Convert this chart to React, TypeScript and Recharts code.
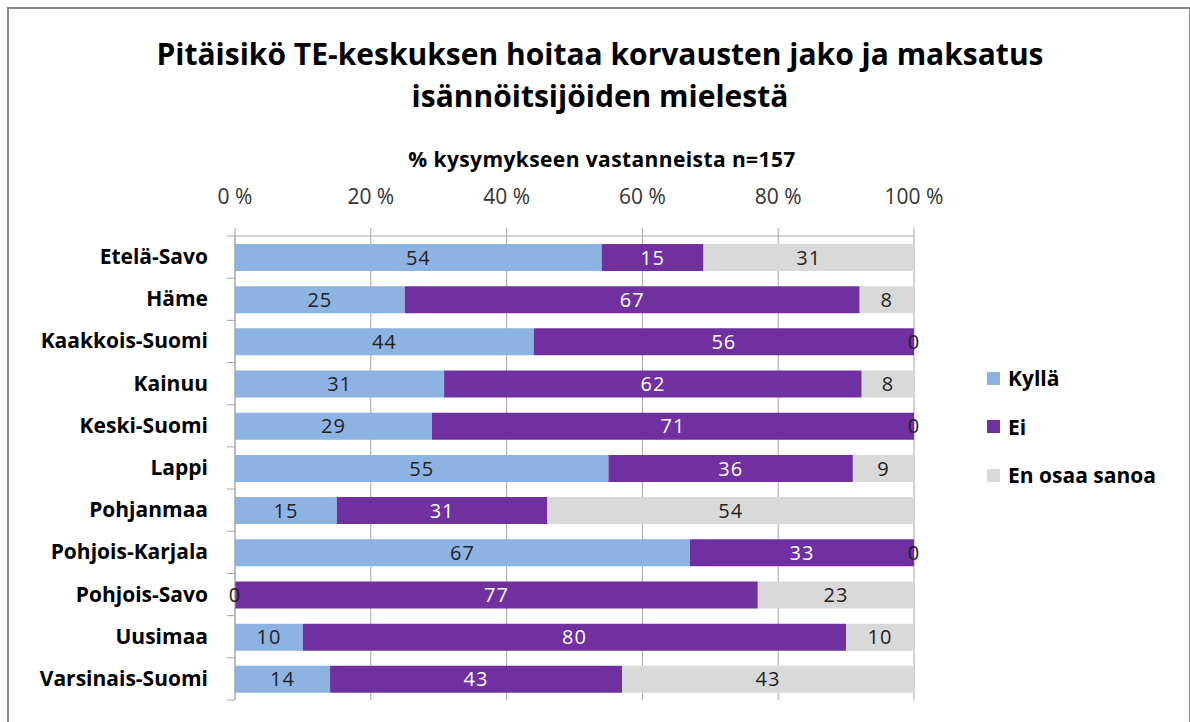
import React from 'react';
import { BarChart, Bar, XAxis, YAxis, CartesianGrid, LabelList } from 'recharts';

const regions = [
  'Etelä-Savo',
  'Häme',
  'Kaakkois-Suomi',
  'Kainuu',
  'Keski-Suomi',
  'Lappi',
  'Pohjanmaa',
  'Pohjois-Karjala',
  'Pohjois-Savo',
  'Uusimaa',
  'Varsinais-Suomi',
];
const kylla = [54, 25, 44, 30.8, 29, 55, 15, 67, 0, 10, 14];
const ei = [15, 67, 56, 61.5, 71, 36, 31, 33, 77, 80, 43];
const enOsaa = [31, 8, 0, 7.7, 0, 9, 54, 0, 23, 10, 43];
const xTicks = [0, 20, 40, 60, 80, 100];

const seriesNames = ['Kyllä', 'Ei', 'En osaa sanoa'];
const seriesColors = ['#8db3e2', '#7030a0', '#d9d9d9'];

const data = regions.map((name, i) => ({ name, kylla: kylla[i], ei: ei[i], enOsaa: enOsaa[i] }));

const FONT = '"Open Sans", Lato, sans-serif';
const GRID = '#a6a6a6';
const DARK = '#222';
const PLOT_LEFT = 235;
const PLOT_TOP = 236;
const PLOT_BOTTOM = 700;
const BAND = (PLOT_BOTTOM - PLOT_TOP) / regions.length;
const LABEL_STYLE = { fontSize: 20, letterSpacing: 1, fontFamily: FONT };

const CategoryTick = (props: any) => {
  const { y, payload, index } = props;
  const half = payload && payload.offset ? payload.offset : BAND / 2;
  return (
    <g>
      <text x={PLOT_LEFT - 27} y={y} dy={7} textAnchor="end" fontSize={21} fontWeight={700} fill="#000" fontFamily={FONT}>
        {payload.value}
      </text>
      <line x1={PLOT_LEFT - 8} x2={PLOT_LEFT} y1={y - half} y2={y - half} stroke={GRID} />
      {index === regions.length - 1 && (
        <line x1={PLOT_LEFT - 8} x2={PLOT_LEFT} y1={y + half} y2={y + half} stroke={GRID} />
      )}
    </g>
  );
};

// zero-width segments get no label from recharts; draw them at the edges of the Ei segment
const ZeroLabels = (props: any) => {
  const { x, y, width, height, index } = props;
  const cy = y + height / 2;
  return (
    <g>
      {kylla[index] === 0 && (
        <text x={x} y={cy} dy={7} textAnchor="middle" fill={DARK} {...LABEL_STYLE}>0</text>
      )}
      {enOsaa[index] === 0 && (
        <text x={x + width} y={cy} dy={7} textAnchor="middle" fill={DARK} {...LABEL_STYLE}>0</text>
      )}
    </g>
  );
};

const fmt = (v: any) => String(Math.round(Number(v)));

export default function App() {
  return (
    <div style={{ position: 'absolute', left: 0, top: 0, width: 1190, height: 722, background: '#fff', overflow: 'hidden', fontFamily: FONT }}>
      <div style={{ position: 'absolute', left: 7, top: 7, width: 1180, height: 730, border: '2px solid #888' }} />
      <div style={{ position: 'absolute', left: 0, top: 33, width: 1200, textAlign: 'center', fontSize: 30, fontWeight: 700, lineHeight: '42px', color: '#000' }}>
        Pitäisikö TE-keskuksen hoitaa korvausten jako ja maksatus
        <br />
        isännöitsijöiden mielestä
      </div>
      <div style={{ position: 'absolute', left: 0, top: 145, width: 1204, textAlign: 'center', fontSize: 21, letterSpacing: 0.4, fontWeight: 700, color: '#000' }}>
        % kysymykseen vastanneista n=157
      </div>
      <div style={{ position: 'absolute', left: 987, top: 354 }}>
        {seriesNames.map((n, i) => (
          <div key={n} style={{ display: 'flex', alignItems: 'center', height: 48.5 }}>
            <span style={{ width: 13, height: 13, background: seriesColors[i], marginRight: 8 }} />
            <span style={{ fontSize: 21, fontWeight: 700, color: '#000' }}>{n}</span>
          </div>
        ))}
      </div>
      <BarChart
        width={1190}
        height={722}
        data={data}
        layout="vertical"
        margin={{ top: PLOT_TOP - 30, right: 276, bottom: 722 - PLOT_BOTTOM, left: 0 }}
        barSize={27}
        style={{ position: 'absolute', left: 0, top: 0, fontFamily: FONT }}
      >
        <CartesianGrid horizontal={false} stroke={GRID} />
        <XAxis
          type="number"
          orientation="top"
          domain={[0, 100]}
          ticks={xTicks}
          tickFormatter={(v) => `${v} %`}
          height={30}
          tickSize={8}
          tickMargin={24}
          axisLine={{ stroke: GRID }}
          tickLine={{ stroke: GRID }}
          tick={{ fontSize: 21, fill: '#333', fontFamily: FONT }}
          interval={0}
        />
        <YAxis
          type="category"
          dataKey="name"
          width={PLOT_LEFT}
          axisLine={{ stroke: GRID }}
          tickLine={false}
          tick={<CategoryTick />}
          interval={0}
        />
        <Bar dataKey="kylla" name={seriesNames[0]} stackId="a" fill={seriesColors[0]} isAnimationActive={false}>
          <LabelList dataKey="kylla" position="center" formatter={fmt} fill={DARK} {...LABEL_STYLE} />
        </Bar>
        <Bar dataKey="ei" name={seriesNames[1]} stackId="a" fill={seriesColors[1]} isAnimationActive={false}>
          <LabelList dataKey="ei" position="center" formatter={fmt} fill="#fff" {...LABEL_STYLE} />
          <LabelList dataKey="ei" content={<ZeroLabels />} />
        </Bar>
        <Bar dataKey="enOsaa" name={seriesNames[2]} stackId="a" fill={seriesColors[2]} isAnimationActive={false}>
          <LabelList dataKey="enOsaa" position="center" formatter={fmt} fill={DARK} {...LABEL_STYLE} />
        </Bar>
      </BarChart>
    </div>
  );
}
